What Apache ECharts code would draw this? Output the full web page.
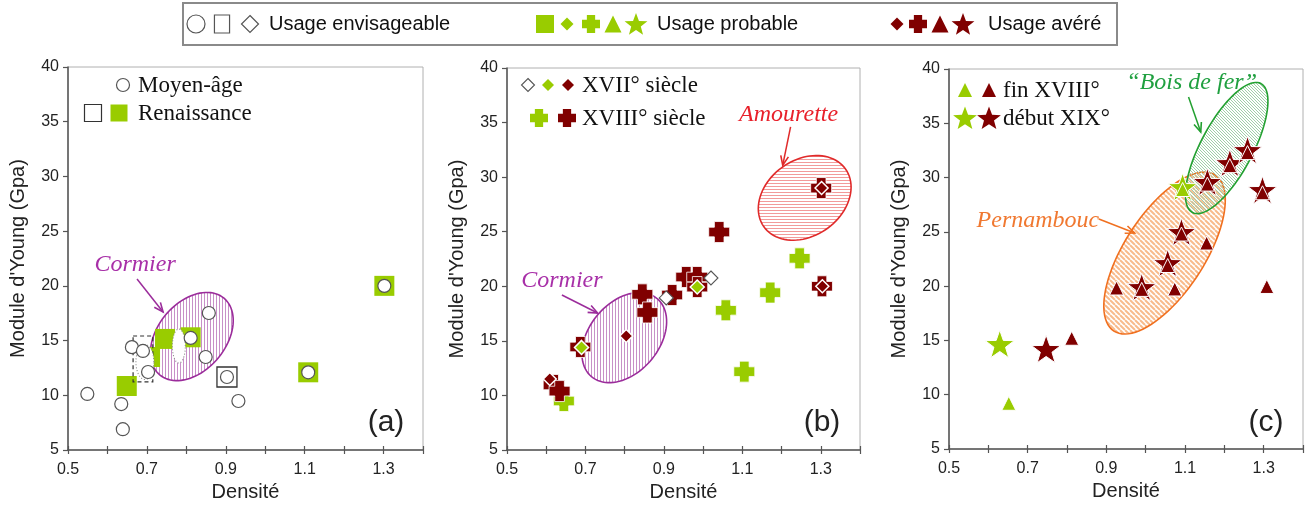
<!DOCTYPE html>
<html><head><meta charset="utf-8">
<script src="https://cdn.jsdelivr.net/npm/echarts@6/dist/echarts.min.js"></script>
<style>html,body{margin:0;padding:0;background:#fff}#c{width:1306px;height:516px}</style>
</head><body><div id="c"></div>
<script>
// ---------- DATA (densité, module d'Young) ----------
const xLabelValues = [0.5, 0.7, 0.9, 1.1, 1.3];
// Panel (a)
const moyenAge = [[0.549,10.12],[0.635,9.2],[0.639,6.9],[0.662,14.4],[0.69,14.05],[0.703,12.13],[0.811,15.24],[0.857,17.52],[0.849,13.5],[0.903,11.67],[0.932,9.48],[1.109,12.1],[1.302,20.0]];
const renaissanceEnvisageable = [[0.903,11.67]];
const renaissanceProbable = [[0.649,10.85],[0.708,13.5],[0.746,15.15],[0.811,15.3],[1.109,12.1],[1.302,20.0]];
// Panel (b)
const xviiEnvisageable = [[0.906,18.93],[1.02,20.76]];
const xviiProbable = [[0.69,14.4],[0.985,19.93]];
const xviiAvere = [[0.609,11.5],[0.804,15.45],[1.302,29.0],[1.304,20.0]];
const xviiiProbable = [[0.645,9.49],[1.058,17.8],[1.105,12.18],[1.171,19.42],[1.246,22.56]];
const xviiiAvere = [[0.619,10.96],[0.634,10.4],[0.687,14.44],[0.845,19.26],[0.858,17.6],[0.921,19.2],[0.957,20.85],[0.985,20.85],[0.985,19.93],[1.041,24.97],[1.301,29.0],[1.303,20.0]];
// Panel (c)
const finXviiiProbable = [[0.652,9.21],[1.094,28.9]];
const finXviiiAvere = [[0.812,15.2],[0.926,19.83],[0.99,19.7],[1.056,21.9],[1.074,19.74],[1.091,24.8],[1.155,23.97],[1.157,29.4],[1.214,31.1],[1.259,32.3],[1.297,28.6],[1.308,19.97]];
const debutXixProbable = [[0.629,14.68],[1.094,29.13]];
const debutXixAvere = [[0.747,14.22],[0.99,19.92],[1.056,22.13],[1.091,24.99],[1.157,29.6],[1.214,31.34],[1.259,32.54],[1.297,28.86]];

// ---------- ANNOTATIONS (data-space anchors) ----------
const ellipsesA = [{c:[0.814,15.37], a:50, b:34, angle:50, stroke:'#9b2c9b', hatch:['#c890c8','v',3,1]}];
const overlaysA = [
  {rect:[0.665,15.42,0.715,11.22], stroke:'#333', dash:[4,3]},
  {c:[0.695,13.04], a:9, b:17.5, angle:0, stroke:'#888', dash:[1,2], fill:'#fff'},
  {c:[0.781,14.5], a:6.5, b:17, angle:0, stroke:'#888', dash:[1,2], fill:'#fff'}
];
const arrowsA = [{from:[0.675,20.63], to:[0.741,17.61], color:'#9b2c9b'}];
const labelsA = [{at:[0.670,21.9], text:'Cormier', color:'#a830a8'}];

const ellipsesB = [
  {c:[0.799,15.3], a:51, b:35, angle:50, stroke:'#9b2c9b', hatch:['#c890c8','v',3,1]},
  {c:[1.259,28.1], a:50, b:38, angle:35, stroke:'#e02a2a', hatch:['#f29a9a','h',3,1]}
];
const arrowsB = [{from:[0.640,19.2], to:[0.731,17.55], color:'#9b2c9b'},{from:[1.223,34.6], to:[1.203,31.1], color:'#e02a2a'}];
const labelsB = [{at:[0.640,20.48], text:'Cormier', color:'#a830a8'},{at:[1.218,35.7], text:'Amourette', color:'#e8202a'}];

const ellipsesC = [
  {c:[1.048,23.05], a:93, b:40, angle:57, stroke:'#f07020', hatch:['#f8bb8c','d',5,2]},
  {c:[1.206,32.72], a:73, b:26, angle:62, stroke:'#22a030', hatch:['#9fd0a8','d',3,1]}
];
const arrowsC = [{from:[0.881,26.18], to:[0.972,24.9], color:'#f07020'},{from:[1.109,37.42], to:[1.14,34.2], color:'#22a030'}];
const labelsC = [{at:[0.726,26.0], text:'Pernambouc', color:'#f07830'},{at:[1.117,38.7], text:'\u201cBois de fer\u201d', color:'#20a040'}];

// ---------- STYLE ----------
const GREEN = '#99cc00', RED = '#800000';
const STAR = 'path://M50,0L61.76,33.82L97.55,34.55L69.02,56.18L79.39,90.45L50,70L20.61,90.45L30.98,56.18L2.45,34.55L38.24,33.82Z';
const CROSS = 'path://M27,0H73V27H100V73H73V100H27V73H0V27H27Z';
const SANS = 'Liberation Sans', SERIF = 'Liberation Serif';

function pat(spec){
  const [color, dir, step, lw] = spec;
  const cv = document.createElement('canvas'); cv.width = step; cv.height = step;
  const g = cv.getContext('2d'); g.strokeStyle = color; g.lineWidth = lw; g.beginPath();
  if (dir === 'v') { g.moveTo(0.5,0); g.lineTo(0.5,step); }
  else if (dir === 'h') { g.moveTo(0,0.5); g.lineTo(step,0.5); }
  else { for (let k=-1;k<=1;k++){ g.moveTo(k*step,0); g.lineTo(k*step+step,step); } }
  g.stroke();
  return {image: cv, repeat: 'repeat'};
}
function ellPts(c, a, b, angle){
  const th = angle*Math.PI/180, pts = [];
  for (let i=0;i<90;i++){ const t=i/90*2*Math.PI, x=a*Math.cos(t), y=b*Math.sin(t);
    pts.push([c[0]+x*Math.cos(th)-y*Math.sin(th), c[1]-(x*Math.sin(th)+y*Math.cos(th))]); }
  return pts;
}
function shapeSeries(list, gi, z){
  return {type:'custom', xAxisIndex:gi, yAxisIndex:gi, z, silent:true, animation:false,
    data: list.map(e => e.c || [e.rect[0], e.rect[1]]),
    renderItem: (p, api) => {
      const e = list[p.dataIndex];
      if (e.rect){
        const p1 = api.coord([e.rect[0], e.rect[1]]), p2 = api.coord([e.rect[2], e.rect[3]]);
        return {type:'rect', shape:{x:p1[0], y:p1[1], width:p2[0]-p1[0], height:p2[1]-p1[1]},
          style:{fill:'none', stroke:e.stroke, lineWidth:1.2, lineDash:e.dash}};
      }
      const c = api.coord(e.c);
      return {type:'polygon', shape:{points: ellPts(c, e.a, e.b, e.angle)},
        style:{fill: e.hatch ? pat(e.hatch) : (e.fill || 'none'), stroke:e.stroke, lineWidth: e.hatch ? 1.6 : 1.1, lineDash: e.dash || null}};
    }};
}
function arrowSeries(list, gi, z){
  return {type:'custom', xAxisIndex:gi, yAxisIndex:gi, z, silent:true, animation:false,
    data: list.map(a => [a.from[0], a.from[1], a.to[0], a.to[1]]),
    renderItem: (p, api) => {
      const a = list[p.dataIndex];
      const p1 = api.coord(a.from), p2 = api.coord(a.to);
      const ang = Math.atan2(p2[1]-p1[1], p2[0]-p1[0]), L = 10, w = 0.4;
      const h1 = [p2[0]-L*Math.cos(ang-w), p2[1]-L*Math.sin(ang-w)];
      const h2 = [p2[0]-L*Math.cos(ang+w), p2[1]-L*Math.sin(ang+w)];
      return {type:'group', children:[
        {type:'line', shape:{x1:p1[0], y1:p1[1], x2:p2[0], y2:p2[1]}, style:{stroke:a.color, lineWidth:1.5}},
        {type:'polyline', shape:{points:[h1, p2, h2]}, style:{stroke:a.color, lineWidth:1.6, fill:'none'}}
      ]};
    }};
}
function labelSeries(list, gi, z){
  return {type:'custom', xAxisIndex:gi, yAxisIndex:gi, z, silent:true, animation:false,
    data: list.map(l => l.at),
    renderItem: (p, api) => {
      const l = list[p.dataIndex]; const c = api.coord(l.at);
      return {type:'text', x:c[0], y:c[1], style:{text:l.text, fill:l.color, font:'italic 24px "Liberation Serif"', align:'center', verticalAlign:'middle'}};
    }};
}
function scatter(data, gi, z, symbol, size, color, border, bw){
  return {type:'scatter', xAxisIndex:gi, yAxisIndex:gi, z, data, symbol, symbolSize:size, symbolKeepAspect:true,
    silent:true, animation:false,
    itemStyle:{color, borderColor:border, borderWidth:bw||0, opacity:1}};
}

const grids = [
  {left:68, top:67, width:355, height:383},
  {left:507, top:68, width:353, height:382},
  {left:949, top:69, width:354, height:380}
].map(g => Object.assign({show:true, borderColor:'#b0b0b0', borderWidth:1, backgroundColor:'transparent', containLabel:false, outerBoundsMode:'none'}, g));

const AX = '#555';
function xMain(gi){ return {gridIndex:gi, type:'value', min:0.5, max:1.4, interval:0.1,
  name:'Densité', nameLocation:'middle', nameGap:32,
  nameTextStyle:{fontSize:20, color:'#222', fontFamily:SANS},
  axisLine:{show:true, onZero:false, lineStyle:{color:AX, width:1.5}},
  axisTick:{show:true, length:4, lineStyle:{color:AX, width:1.2}},
  axisLabel:{show:true, margin:12, fontSize:16, color:'#222', fontFamily:SANS,
    formatter: v => xLabelValues.some(t => Math.abs(t-v) < 1e-6) ? v.toFixed(1) : ''},
  splitLine:{show:false}}; }
function xInner(gi){ return {gridIndex:gi, type:'value', min:0.5, max:1.4, interval:0.1, position:'bottom',
  axisLine:{show:false, onZero:false}, axisTick:{show:true, inside:true, length:4, lineStyle:{color:AX, width:1.2}},
  axisLabel:{show:false}, splitLine:{show:false}}; }
function yMain(gi){ return {gridIndex:gi, type:'value', min:5, max:40, interval:5,
  name:"Module d'Young (Gpa)", nameLocation:'middle', nameGap:40,
  nameTextStyle:{fontSize:20, color:'#222', fontFamily:SANS},
  axisLine:{show:true, onZero:false, lineStyle:{color:AX, width:1.5}},
  axisTick:{show:true, length:5, lineStyle:{color:AX, width:1.2}},
  axisLabel:{show:true, margin:9, fontSize:16, color:'#222', fontFamily:SANS},
  splitLine:{show:false}}; }

// ---------- graphic helpers (legends) ----------
function starPts(cx, cy, R, r){ const pts=[]; for(let i=0;i<10;i++){ const ang=-Math.PI/2+i*Math.PI/5, rr=i%2?r:R; pts.push([cx+rr*Math.cos(ang), cy+rr*Math.sin(ang)]);} return pts; }
function sym(kind, cx, cy, s, fill, stroke, lw){
  const style = {fill, stroke: stroke||null, lineWidth: lw||0};
  const h = s/2;
  if (kind==='circle') return {type:'circle', shape:{cx, cy, r:h}, style, z:100};
  if (kind==='rect') return {type:'rect', shape:{x:cx-h, y:cy-h, width:s, height:s}, style, z:100};
  if (kind==='rectTall') return {type:'rect', shape:{x:cx-s*0.42, y:cy-h, width:s*0.84, height:s}, style, z:100};
  let pts;
  if (kind==='diamond') pts=[[cx,cy-h],[cx+h,cy],[cx,cy+h],[cx-h,cy]];
  if (kind==='triangle') pts=[[cx,cy-h],[cx+h,cy+h],[cx-h,cy+h]];
  if (kind==='cross'){ const a=s*0.23; pts=[[cx-a,cy-h],[cx+a,cy-h],[cx+a,cy-a],[cx+h,cy-a],[cx+h,cy+a],[cx+a,cy+a],[cx+a,cy+h],[cx-a,cy+h],[cx-a,cy+a],[cx-h,cy+a],[cx-h,cy-a],[cx-a,cy-a]]; }
  if (kind==='star') pts=starPts(cx, cy+1, h, h*0.42);
  return {type:'polygon', shape:{points:pts}, style, z:100};
}
function txt(x, y, text, font, align, color){
  return {type:'text', x, y, z:100, style:{text, font, fill:color||'#111', align:align||'left', verticalAlign:'middle'}};
}
const LF = '20px "Liberation Sans"';
const SF = '23px "Liberation Serif"';
const graphic = [
  {type:'rect', shape:{x:183, y:3, width:934, height:42}, style:{fill:'#fff', stroke:'#8a8a8a', lineWidth:2}, z:90},
  sym('circle',196,24,18,'#fff','#555',1.2), sym('rectTall',222,24,18,'#fff','#555',1.2), sym('diamond',250,24,17,'#fff','#555',1.2),
  txt(269,24,'Usage envisageable',LF),
  sym('rect',545,24,18,GREEN), sym('diamond',567,24,13,GREEN), sym('cross',591,24,18,GREEN), sym('triangle',613,24,17,GREEN), sym('star',636,24,24,GREEN),
  txt(657,24,'Usage probable',LF),
  sym('diamond',897,24,13,RED), sym('cross',918,24,18,RED), sym('triangle',940,24,17,RED), sym('star',963,24,24,RED),
  txt(988,24,'Usage avéré',LF),
  // panel a legend
  sym('circle',123,85,13,'#fff','#555',1.2), txt(138,86,'Moyen-âge',SF),
  sym('rect',93,113,17,'#fff','#333',1.2), sym('rect',119,113,17,GREEN), txt(138,114,'Renaissance',SF),
  // panel b legend
  sym('diamond',528,85,13,'#fff','#555',1.1), sym('diamond',548,85,12,GREEN), sym('diamond',568,85,12,RED), txt(582,86,'XVII° siècle',SF),
  sym('cross',539,118,18,GREEN), sym('cross',567,118,18,RED), txt(582,119,'XVIII° siècle',SF),
  // panel c legend
  sym('triangle',965,90,14,GREEN), sym('triangle',989,90,14,RED), txt(1003,91,'fin XVIII°',SF),
  sym('star',965,118,25,GREEN), sym('star',989,118,25,RED), txt(1003,119,'début XIX°',SF),
  // panel tags
  txt(386,423,'(a)','30px "Liberation Sans"','center','#222'),
  txt(822,423,'(b)','30px "Liberation Sans"','center','#222'),
  txt(1266,423,'(c)','30px "Liberation Sans"','center','#222')
];

const series = [
  // (a)
  shapeSeries(ellipsesA, 0, 1),
  scatter(renaissanceEnvisageable, 0, 2, 'rect', 20, '#fff', '#333', 1.3),
  scatter(renaissanceProbable, 0, 3, 'rect', 20, GREEN),
  shapeSeries(overlaysA, 0, 4),
  scatter(moyenAge, 0, 5, 'circle', 13, '#fff', '#555', 1.2),
  arrowSeries(arrowsA, 0, 6), labelSeries(labelsA, 0, 6),
  // (b)
  shapeSeries(ellipsesB, 1, 1),
  scatter(xviiiProbable, 1, 2, CROSS, 21, GREEN, '#fff', 0.8),
  scatter(xviiiAvere, 1, 3, CROSS, 21, RED, '#fff', 0.8),
  scatter(xviiEnvisageable, 1, 4, 'diamond', 14, '#fff', '#555', 1.1),
  scatter(xviiProbable, 1, 5, 'diamond', 14, GREEN, '#fff', 1.5),
  scatter(xviiAvere, 1, 6, 'diamond', 13, RED, '#fff', 1.5),
  arrowSeries(arrowsB, 1, 7), labelSeries(labelsB, 1, 7),
  // (c)
  shapeSeries(ellipsesC, 2, 1),
  scatter(debutXixProbable, 2, 2, STAR, 29, GREEN, '#fff', 1),
  scatter(debutXixAvere, 2, 3, STAR, 29, RED, '#fff', 1),
  scatter(finXviiiProbable, 2, 4, 'triangle', 14, GREEN, '#fff', 1),
  scatter(finXviiiAvere, 2, 5, 'triangle', 14, RED, '#fff', 1),
  arrowSeries(arrowsC, 2, 6), labelSeries(labelsC, 2, 6)
];

const chart = echarts.init(document.getElementById('c'), null, {renderer:'canvas'});
chart.setOption({
  animation:false,
  backgroundColor:'#fff',
  textStyle:{fontFamily:SANS},
  grid: grids,
  xAxis: [xMain(0), xMain(1), xMain(2), xInner(0), xInner(1), xInner(2)],
  yAxis: [yMain(0), yMain(1), yMain(2)],
  graphic,
  series
});
</script></body></html>
